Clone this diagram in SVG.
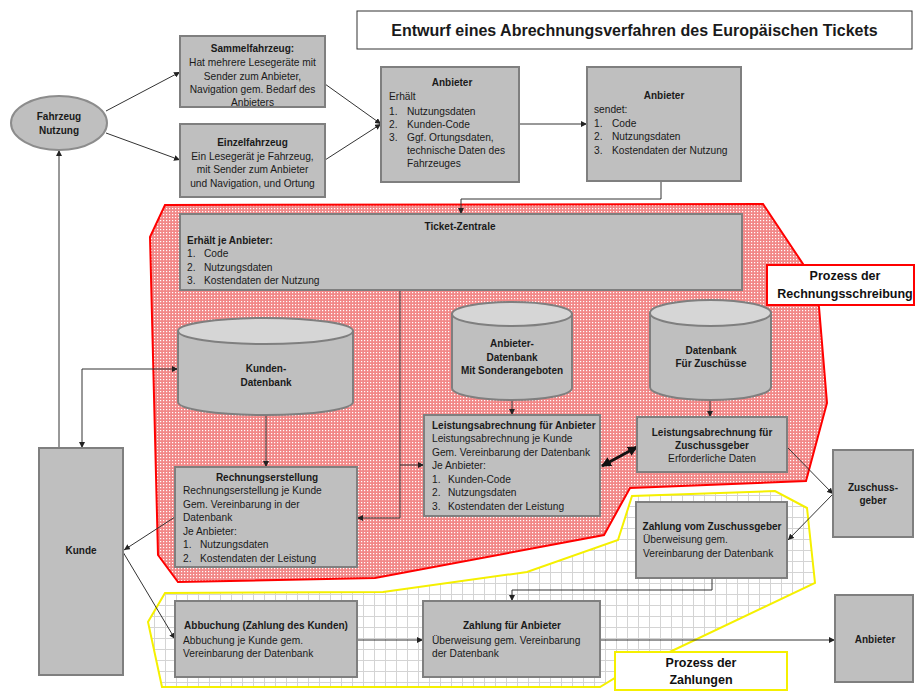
<svg xmlns="http://www.w3.org/2000/svg" width="915" height="691" viewBox="0 0 915 691">
<style>
.box{fill:#bfbfbf;stroke:#7f7f7f;stroke-width:2}
.t{font-family:"Liberation Sans",Arial,sans-serif;font-size:10.2px;fill:#1a1a1a}
.b{font-weight:bold;font-size:10px}
.c{text-anchor:middle}
.ln{fill:none;stroke:#333;stroke-width:1}
.cyl{fill:#bfbfbf;stroke:#7f7f7f;stroke-width:2}
.top{fill:#d6d6d6;stroke:#7f7f7f;stroke-width:2}
.lbl{font-family:"Liberation Sans",Arial,sans-serif;font-size:12.5px;font-weight:bold;fill:#111;text-anchor:middle}
</style>
<defs>
<pattern id="dots" width="3" height="3" patternUnits="userSpaceOnUse">
<rect width="3" height="3" fill="#f28888"/>
<rect x="1" y="1" width="1.2" height="1.2" fill="#ffffff"/>
</pattern>
<pattern id="grid" width="11" height="11" patternUnits="userSpaceOnUse">
<rect width="11" height="11" fill="#ffffff"/>
<path d="M0 0.5H11M0.5 0V11" stroke="#d4d4d4" stroke-width="1"/>
</pattern>
<marker id="ar" viewBox="0 0 10 10" refX="10" refY="5" markerWidth="6" markerHeight="6" markerUnits="userSpaceOnUse" orient="auto-start-reverse">
<path d="M0 0L10 5L0 10Z" fill="#222"/>
</marker>
<marker id="arB" viewBox="0 0 10 10" refX="9" refY="5" markerWidth="10" markerHeight="10" markerUnits="userSpaceOnUse" orient="auto-start-reverse">
<path d="M0 0L10 5L0 10Z" fill="#111"/>
</marker>
</defs>
<rect width="915" height="691" fill="#ffffff"/>

<g id="region-rechnung">
<polygon points="165,205 763,204 803,264 819,307 827,403 806,481 630,488 604,535 375,578 178,582 158,555 150,237" fill="url(#dots)" stroke="#ff0000" stroke-width="2"/>
</g>
<g id="region-zahlung">
<polygon points="165,593 383,592 527,572 618,540 632,496 775,491 807,508 815,583 615,678 600,687 162,687 148,622" fill="url(#grid)" stroke="#f5f000" stroke-width="2"/>
</g>

<g id="title">
<rect x="357" y="11" width="555" height="38" fill="#fff" stroke="#333" stroke-width="1"/>
<text x="634.5" y="36" class="t c" style="font-size:16px;font-weight:bold">Entwurf eines Abrechnungsverfahren des Europäischen Tickets</text>
</g>

<g id="connectors">
<path class="ln" d="M106,111 L180,72" marker-end="url(#ar)"/>
<path class="ln" d="M106,133 L180,160" marker-end="url(#ar)"/>
<path class="ln" d="M325,84 L381,124" marker-end="url(#ar)"/>
<path class="ln" d="M325,160 L381,124" marker-end="url(#ar)"/>
<path class="ln" d="M519,124 H587" marker-end="url(#ar)"/>
<path class="ln" d="M661,181 V199 H461 V214" marker-end="url(#ar)"/>
<path class="ln" d="M59,448 V150" marker-end="url(#ar)"/>
<path class="ln" d="M178,369 H82 V448" marker-start="url(#ar)" marker-end="url(#ar)"/>
<path class="ln" d="M266,416 V467" marker-end="url(#ar)"/>
<path class="ln" d="M400,290 V518 H357" marker-end="url(#ar)"/>
<path class="ln" d="M400,465 H424" marker-end="url(#ar)"/>
<path class="ln" d="M512,401 V415" marker-end="url(#ar)"/>
<path class="ln" d="M710,401 V417" marker-end="url(#ar)"/>
<path d="M602,466 L637,447" fill="none" stroke="#111" stroke-width="3" marker-start="url(#arB)" marker-end="url(#arB)"/>
<path class="ln" d="M787,447 L833,494" marker-end="url(#ar)"/>
<path class="ln" d="M833,494 L788,540" marker-end="url(#ar)"/>
<path class="ln" d="M712,578 V590 H512 V601" marker-end="url(#ar)"/>
<path class="ln" d="M175,517 L124,550" marker-end="url(#ar)"/>
<path class="ln" d="M123,552 L175,639" marker-end="url(#ar)"/>
<path class="ln" d="M357,640 H423" marker-end="url(#ar)"/>
<path class="ln" d="M600,640 H835" marker-end="url(#ar)"/>
</g>

<g id="fahrzeug-nutzung">
<ellipse cx="59" cy="123" rx="48" ry="27" fill="#bfbfbf" stroke="#8c8c8c" stroke-width="2"/>
<text x="59" y="120" class="t b c">Fahrzeug</text>
<text x="59" y="134" class="t b c">Nutzung</text>
</g>

<g id="sammelfahrzeug">
<rect x="180" y="36" width="145" height="71" class="box"/>
<text x="252.5" y="52" class="t b c">Sammelfahrzeug:</text>
<text x="252.5" y="66" class="t c">Hat mehrere Lesegeräte mit</text>
<text x="252.5" y="80" class="t c">Sender zum Anbieter,</text>
<text x="252.5" y="93" class="t c">Navigation gem. Bedarf des</text>
<text x="252.5" y="106" class="t c">Anbieters</text>
</g>

<g id="einzelfahrzeug">
<rect x="180" y="124" width="145" height="73" class="box"/>
<text x="252.5" y="146" class="t b c">Einzelfahrzeug</text>
<text x="252.5" y="160" class="t c">Ein Lesegerät je Fahrzeug,</text>
<text x="252.5" y="173" class="t c">mit Sender zum Anbieter</text>
<text x="252.5" y="187" class="t c">und Navigation, und Ortung</text>
</g>

<g id="anbieter-erhaelt">
<rect x="381" y="67" width="138" height="115" class="box"/>
<text x="452" y="86" class="t b c">Anbieter</text>
<text x="389" y="100" class="t">Erhält</text>
<text x="389" y="115" class="t">1.</text><text x="407" y="115" class="t">Nutzungsdaten</text>
<text x="389" y="128" class="t">2.</text><text x="407" y="128" class="t">Kunden-Code</text>
<text x="389" y="141" class="t">3.</text><text x="407" y="141" class="t">Ggf. Ortungsdaten,</text>
<text x="407" y="154" class="t">technische Daten des</text>
<text x="407" y="167" class="t">Fahrzeuges</text>
</g>

<g id="anbieter-sendet">
<rect x="587" y="67" width="154" height="114" class="box"/>
<text x="664" y="99" class="t b c">Anbieter</text>
<text x="594" y="113" class="t">sendet:</text>
<text x="594" y="127" class="t">1.</text><text x="612" y="127" class="t">Code</text>
<text x="594" y="140" class="t">2.</text><text x="612" y="140" class="t">Nutzungsdaten</text>
<text x="594" y="154" class="t">3.</text><text x="612" y="154" class="t">Kostendaten der Nutzung</text>
</g>

<g id="ticket-zentrale">
<rect x="180" y="214" width="562" height="76" class="box"/>
<text x="460" y="230" class="t b c">Ticket-Zentrale</text>
<text x="187" y="244" class="t b">Erhält je Anbieter:</text>
<text x="187" y="257" class="t">1.</text><text x="204" y="257" class="t">Code</text>
<text x="187" y="271" class="t">2.</text><text x="204" y="271" class="t">Nutzungsdaten</text>
<text x="187" y="284" class="t">3.</text><text x="204" y="284" class="t">Kostendaten der Nutzung</text>
</g>

<g id="kunden-datenbank">
<path class="cyl" d="M178,331 V402 A87.5,13 0 0 0 353,402 V331 Z"/>
<ellipse class="top" cx="265.5" cy="331" rx="87.5" ry="13"/>
<text x="266" y="372" class="t b c">Kunden-</text>
<text x="266" y="386" class="t b c">Datenbank</text>
</g>

<g id="anbieter-datenbank">
<path class="cyl" d="M452,314 V388 A60,12 0 0 0 572,388 V314 Z"/>
<ellipse class="top" cx="512" cy="314" rx="60" ry="12"/>
<text x="512" y="347" class="t b c">Anbieter-</text>
<text x="512" y="361" class="t b c">Datenbank</text>
<text x="512" y="374" class="t b c">Mit Sonderangeboten</text>
</g>

<g id="datenbank-zuschuesse">
<path class="cyl" d="M650,313 V387 A60.5,13 0 0 0 771,387 V313 Z"/>
<ellipse class="top" cx="710.5" cy="313" rx="60.5" ry="13"/>
<text x="711" y="354" class="t b c">Datenbank</text>
<text x="711" y="367" class="t b c">Für Zuschüsse</text>
</g>

<g id="rechnungserstellung">
<rect x="175" y="467" width="182" height="100" class="box"/>
<text x="267" y="481" class="t b c">Rechnungserstellung</text>
<text x="183" y="494" class="t">Rechnungserstellung je Kunde</text>
<text x="183" y="508" class="t">Gem. Vereinbarung  in der</text>
<text x="183" y="521" class="t">Datenbank</text>
<text x="183" y="535" class="t">Je Anbieter:</text>
<text x="183" y="548" class="t">1.</text><text x="200" y="548" class="t">Nutzungsdaten</text>
<text x="183" y="562" class="t">2.</text><text x="200" y="562" class="t">Kostendaten der Leistung</text>
</g>

<g id="leistungsabrechnung-anbieter">
<rect x="424" y="415" width="176" height="101" class="box"/>
<text x="432" y="429" class="t b">Leistungsabrechnung für Anbieter</text>
<text x="432" y="442" class="t">Leistungsabrechnung je Kunde</text>
<text x="432" y="456" class="t">Gem. Vereinbarung der Datenbank</text>
<text x="432" y="469" class="t">Je Anbieter:</text>
<text x="432" y="483" class="t">1.</text><text x="448" y="483" class="t">Kunden-Code</text>
<text x="432" y="496" class="t">2.</text><text x="448" y="496" class="t">Nutzungsdaten</text>
<text x="432" y="510" class="t">3.</text><text x="448" y="510" class="t">Kostendaten der Leistung</text>
</g>

<g id="leistungsabrechnung-zuschussgeber">
<rect x="637" y="417" width="150" height="55" class="box"/>
<text x="712" y="436" class="t b c">Leistungsabrechnung für</text>
<text x="712" y="449" class="t b c">Zuschussgeber</text>
<text x="712" y="462" class="t c">Erforderliche Daten</text>
</g>

<g id="label-rechnung">
<rect x="767" y="265" width="147" height="40" fill="#fff" stroke="#ff0000" stroke-width="2"/>
<text x="845" y="280" class="lbl">Prozess der</text>
<text x="845" y="298" class="lbl">Rechnungsschreibung</text>
</g>

<g id="zuschussgeber">
<rect x="833" y="450" width="80" height="87" class="box"/>
<text x="873" y="491" class="t b c">Zuschuss-</text>
<text x="873" y="504" class="t b c">geber</text>
</g>

<g id="zahlung-zuschussgeber">
<rect x="636" y="502" width="151" height="76" class="box"/>
<text x="712" y="530" class="t b c">Zahlung vom Zuschussgeber</text>
<text x="643" y="543" class="t">Überweisung gem.</text>
<text x="643" y="557" class="t">Vereinbarung der Datenbank</text>
</g>

<g id="kunde">
<rect x="39" y="448" width="84" height="227" class="box"/>
<text x="81" y="554" class="t b c">Kunde</text>
</g>

<g id="abbuchung">
<rect x="175" y="601" width="182" height="76" class="box"/>
<text x="266" y="629" class="t b c">Abbuchung (Zahlung des Kunden)</text>
<text x="183" y="644" class="t">Abbuchung je Kunde gem.</text>
<text x="183" y="657" class="t">Vereinbarung der Datenbank</text>
</g>

<g id="zahlung-anbieter">
<rect x="423" y="601" width="177" height="76" class="box"/>
<text x="512" y="629" class="t b c">Zahlung für Anbieter</text>
<text x="432" y="644" class="t">Überweisung gem. Vereinbarung</text>
<text x="432" y="657" class="t">der Datenbank</text>
</g>

<g id="anbieter-unten">
<rect x="835" y="595" width="78" height="87" class="box"/>
<text x="875" y="643" class="t b c">Anbieter</text>
</g>

<g id="label-zahlung">
<rect x="615" y="652" width="172" height="38" fill="#fff" stroke="#f5f000" stroke-width="2"/>
<text x="701" y="667" class="lbl">Prozess der</text>
<text x="701" y="684" class="lbl">Zahlungen</text>
</g>
</svg>
